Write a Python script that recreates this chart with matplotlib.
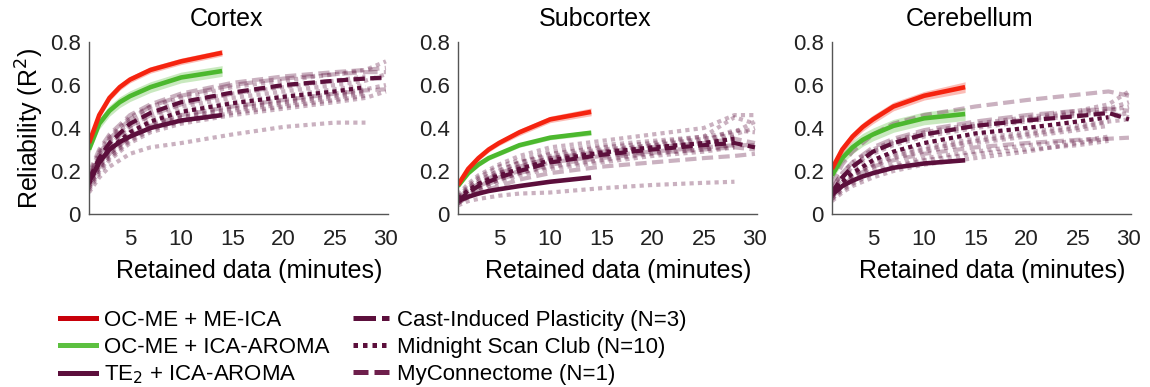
import numpy as np
import matplotlib.pyplot as plt
from matplotlib.lines import Line2D

plt.rcParams["font.family"] = ["Liberation Sans", "DejaVu Sans"]

nan = np.nan
regions = ["Cortex", "Subcortex", "Cerebellum"]

# minutes of retained data
x_short = [1, 2, 3, 4, 5, 7, 10, 14]
x_long = [1, 2, 3, 5, 7, 10, 15, 20, 25, 28, 30]

# multi-echo / single-echo pipelines (mean + half-width of shaded band)
me_ica = {
    "Cortex": [0.33, 0.46, 0.54, 0.59, 0.625, 0.67, 0.71, 0.75],
    "Subcortex": [0.135, 0.21, 0.26, 0.30, 0.33, 0.38, 0.44, 0.475],
    "Cerebellum": [0.21, 0.30, 0.36, 0.405, 0.44, 0.50, 0.55, 0.59],
}
me_ica_band = {
    "Cortex": [0.01, 0.015, 0.015, 0.015, 0.015, 0.015, 0.015, 0.015],
    "Subcortex": [0.01, 0.012, 0.012, 0.012, 0.012, 0.015, 0.015, 0.018],
    "Cerebellum": [0.015, 0.02, 0.02, 0.02, 0.02, 0.02, 0.02, 0.025],
}
aroma = {
    "Cortex": [0.30, 0.42, 0.48, 0.52, 0.548, 0.59, 0.635, 0.665],
    "Subcortex": [0.13, 0.19, 0.23, 0.26, 0.28, 0.32, 0.355, 0.378],
    "Cerebellum": [0.18, 0.26, 0.31, 0.345, 0.37, 0.41, 0.445, 0.465],
}
aroma_band = {
    "Cortex": [0.02, 0.025, 0.025, 0.025, 0.025, 0.025, 0.025, 0.025],
    "Subcortex": [0.01, 0.01, 0.01, 0.01, 0.01, 0.01, 0.01, 0.012],
    "Cerebellum": [0.02, 0.025, 0.03, 0.03, 0.03, 0.03, 0.03, 0.03],
}
te2 = {
    "Cortex": [0.15, 0.24, 0.30, 0.335, 0.36, 0.40, 0.435, 0.46],
    "Subcortex": [0.06, 0.08, 0.095, 0.107, 0.115, 0.13, 0.15, 0.17],
    "Cerebellum": [0.09, 0.13, 0.155, 0.175, 0.19, 0.215, 0.235, 0.25],
}

# Cast-Induced Plasticity (N=3): group mean and subjects
cip_mean = {
    "Cortex": [0.16, 0.26, 0.33, 0.42, 0.47, 0.52, 0.565, 0.60, 0.62, 0.63, 0.635],
    "Subcortex": [0.06, 0.10, 0.13, 0.17, 0.20, 0.24, 0.275, 0.30, 0.32, 0.33, 0.31],
    "Cerebellum": [0.10, 0.17, 0.22, 0.29, 0.33, 0.37, 0.41, 0.435, 0.455, 0.47, 0.44],
}
cip_subjects = {
    "Cortex": [
        [0.19, 0.30, 0.37, 0.46, 0.51, 0.56, 0.61, 0.64, 0.66, 0.67, 0.68],
        [0.15, 0.25, 0.32, 0.41, 0.46, 0.51, 0.56, 0.595, 0.62, 0.63, 0.63],
        [0.13, 0.22, 0.28, 0.36, 0.41, 0.46, 0.50, 0.53, 0.56, 0.575, 0.58],
    ],
    "Subcortex": [
        [0.07, 0.11, 0.14, 0.19, 0.22, 0.26, 0.29, 0.31, 0.33, 0.35, 0.33],
        [0.06, 0.09, 0.12, 0.16, 0.19, 0.23, 0.26, 0.285, 0.30, 0.31, 0.30],
        [0.05, 0.08, 0.10, 0.13, 0.16, 0.19, 0.22, 0.24, 0.26, 0.27, 0.28],
    ],
    "Cerebellum": [
        [0.14, 0.23, 0.29, 0.37, 0.42, 0.46, 0.50, 0.53, 0.555, 0.57, 0.55],
        [0.10, 0.17, 0.22, 0.29, 0.33, 0.37, 0.41, 0.44, 0.46, 0.47, 0.45],
        [0.08, 0.13, 0.17, 0.22, 0.25, 0.28, 0.31, 0.33, 0.345, 0.35, 0.355],
    ],
}

# MyConnectome (N=1)
myc = {
    "Cortex": [0.17, 0.28, 0.35, 0.44, 0.50, 0.55, 0.60, 0.63, 0.65, 0.66, 0.66],
    "Subcortex": [0.06, 0.10, 0.13, 0.17, 0.20, 0.24, 0.27, 0.29, 0.31, 0.32, 0.32],
    "Cerebellum": [0.12, 0.19, 0.24, 0.31, 0.35, 0.39, 0.43, 0.46, 0.48, 0.49, 0.48],
}

# Midnight Scan Club (N=10): group mean and subjects
msc_mean = {
    "Cortex": [0.14, 0.24, 0.30, 0.38, 0.43, 0.475, 0.515, 0.545, 0.57, 0.59, nan],
    "Subcortex": [0.07, 0.11, 0.14, 0.18, 0.21, 0.25, 0.285, 0.31, 0.33, 0.35, nan],
    "Cerebellum": [0.09, 0.15, 0.19, 0.25, 0.29, 0.33, 0.375, 0.40, 0.43, 0.45, nan],
}
msc_subjects = {
    "Cortex": [
        [0.10, 0.17, 0.22, 0.28, 0.31, 0.33, 0.37, 0.405, 0.425, 0.425, nan],
        [0.12, 0.20, 0.26, 0.34, 0.39, 0.43, 0.47, 0.50, 0.53, 0.55, nan],
        [0.13, 0.22, 0.28, 0.36, 0.41, 0.45, 0.49, 0.52, 0.55, 0.57, nan],
        [0.15, 0.25, 0.31, 0.39, 0.44, 0.48, 0.52, 0.55, 0.58, 0.60, nan],
        [0.17, 0.27, 0.34, 0.43, 0.48, 0.52, 0.56, 0.59, 0.62, 0.64, nan],
        [0.18, 0.29, 0.36, 0.45, 0.50, 0.54, 0.59, 0.62, 0.65, 0.67, 0.71],
        [0.11, 0.19, 0.25, 0.33, 0.38, 0.42, 0.46, 0.49, 0.52, 0.54, 0.57],
        [0.14, 0.23, 0.29, 0.37, 0.42, 0.46, 0.50, 0.53, 0.56, 0.58, 0.60],
        [0.16, 0.26, 0.33, 0.41, 0.46, 0.50, 0.54, 0.57, 0.60, 0.62, 0.65],
        [0.12, 0.21, 0.27, 0.35, 0.40, 0.44, 0.48, 0.51, 0.54, 0.56, nan],
    ],
    "Subcortex": [
        [0.04, 0.06, 0.07, 0.085, 0.095, 0.10, 0.12, 0.135, 0.145, 0.15, nan],
        [0.08, 0.13, 0.17, 0.22, 0.25, 0.29, 0.32, 0.34, 0.36, 0.45, 0.42],
        [0.09, 0.14, 0.18, 0.23, 0.27, 0.31, 0.34, 0.37, 0.40, 0.46, 0.46],
        [0.07, 0.12, 0.15, 0.20, 0.24, 0.28, 0.31, 0.33, 0.36, 0.38, 0.43],
        [0.06, 0.10, 0.13, 0.17, 0.21, 0.25, 0.28, 0.30, 0.33, 0.35, nan],
        [0.05, 0.09, 0.12, 0.16, 0.19, 0.22, 0.25, 0.28, 0.30, 0.32, nan],
        [0.07, 0.11, 0.14, 0.19, 0.22, 0.26, 0.29, 0.31, 0.33, 0.36, nan],
        [0.08, 0.12, 0.16, 0.20, 0.24, 0.27, 0.30, 0.32, 0.35, 0.37, 0.40],
        [0.05, 0.08, 0.11, 0.15, 0.18, 0.21, 0.24, 0.27, 0.29, 0.31, nan],
        [0.06, 0.10, 0.14, 0.18, 0.22, 0.26, 0.29, 0.32, 0.34, 0.39, 0.38],
    ],
    "Cerebellum": [
        [0.06, 0.10, 0.13, 0.17, 0.20, 0.23, 0.26, 0.29, 0.33, 0.35, nan],
        [0.07, 0.12, 0.15, 0.20, 0.23, 0.26, 0.29, 0.32, 0.34, 0.36, nan],
        [0.08, 0.13, 0.17, 0.22, 0.26, 0.29, 0.33, 0.36, 0.39, 0.41, nan],
        [0.09, 0.15, 0.19, 0.25, 0.29, 0.33, 0.37, 0.40, 0.43, 0.45, 0.47],
        [0.10, 0.17, 0.21, 0.28, 0.32, 0.36, 0.40, 0.43, 0.46, 0.48, 0.50],
        [0.12, 0.19, 0.24, 0.30, 0.34, 0.38, 0.42, 0.45, 0.48, 0.51, 0.57],
        [0.07, 0.11, 0.14, 0.19, 0.22, 0.25, 0.28, 0.30, 0.32, 0.34, nan],
        [0.09, 0.14, 0.18, 0.24, 0.28, 0.31, 0.35, 0.38, 0.41, 0.43, nan],
        [0.11, 0.17, 0.22, 0.29, 0.33, 0.37, 0.41, 0.44, 0.47, 0.49, 0.52],
        [0.08, 0.14, 0.18, 0.23, 0.27, 0.30, 0.34, 0.37, 0.40, 0.43, 0.44],
    ],
}

x_ticks = [5, 10, 15, 20, 25, 30]
y_ticks = [0, 0.2, 0.4, 0.6, 0.8]
y_ticklabels = ["0", "0.2", "0.4", "0.6", "0.8"]

RED = "#f5230f"
GREEN = "#4cb82e"
MAROON = "#5c0f3c"
LIGHT_ALPHA = 0.32
DASH = (2.7, 1.3)
DOT = (1.0, 1.0)
LW = 3.0

fig = plt.figure(figsize=(11.5, 3.87), dpi=100)
W, H = 1150, 387
lefts = [89, 458, 832]

for i, region in enumerate(regions):
    ax = fig.add_axes([lefts[i] / W, (H - 214) / H, 299 / W, 172 / H])

    # individual subjects, light
    for ys in msc_subjects[region]:
        ax.plot(x_long, ys, color=MAROON, alpha=LIGHT_ALPHA, lw=LW, dashes=DOT)
    for ys in cip_subjects[region]:
        ax.plot(x_long, ys, color=MAROON, alpha=LIGHT_ALPHA, lw=LW, dashes=DASH)
    ax.plot(x_long, myc[region], color=MAROON, alpha=LIGHT_ALPHA, lw=LW, dashes=(3.5, 1.5))

    # group means, dark
    ax.plot(x_long, msc_mean[region], color=MAROON, lw=LW, dashes=DOT)
    ax.plot(x_long, cip_mean[region], color=MAROON, lw=LW, dashes=DASH)

    # pipelines with bands
    for series, band, col in [(te2, None, MAROON), (aroma, aroma_band, GREEN), (me_ica, me_ica_band, RED)]:
        y = np.array(series[region])
        if band is not None:
            b = np.array(band[region])
            ax.fill_between(x_short, y - b, y + b, color=col, alpha=0.3, lw=0)
        ax.plot(x_short, y, color=col, lw=3.3, solid_capstyle="butt", solid_joinstyle="round")

    ax.set_xlim(1, 30.2)
    ax.set_ylim(0, 0.8)
    ax.set_xticks(x_ticks)
    ax.set_yticks(y_ticks)
    ax.set_yticklabels(y_ticklabels)
    for s in ["top", "right"]:
        ax.spines[s].set_visible(False)
    for s in ["left", "bottom"]:
        ax.spines[s].set_color("#555555")
        ax.spines[s].set_linewidth(1.0)
    ax.tick_params(length=0, labelsize=16, colors="#222222")
    ax.tick_params(axis="x", pad=11)
    ax.tick_params(axis="y", pad=6)

    ax.text(0.46, 1.134, region, transform=ax.transAxes, ha="center", va="center", fontsize=18)
    ax.text(0.535, -0.331, "Retained data (minutes)", transform=ax.transAxes,
            ha="center", va="center", fontsize=18)
    if i == 0:
        ax.set_ylabel("Reliability (R$^2$)", fontsize=18, labelpad=3)

# legend
left_handles = [
    Line2D([], [], color="#c8000a", lw=3.6),
    Line2D([], [], color="#5cc040", lw=3.6),
    Line2D([], [], color=MAROON, lw=3.6),
]
left_labels = ["OC-ME + ME-ICA", "OC-ME + ICA-AROMA", "TE$_2$ + ICA-AROMA"]
right_handles = [
    Line2D([], [], color=MAROON, lw=3.6, dashes=(4.5, 1.2)),
    Line2D([], [], color=MAROON, lw=3.6, dashes=(0.9, 1.0)),
    Line2D([], [], color="#6e1f4c", lw=3.6, dashes=(3.0, 1.2)),
]
right_labels = ["Cast-Induced Plasticity (N=3)", "Midnight Scan Club (N=10)", "MyConnectome (N=1)"]

leg_kw = dict(loc="upper left", frameon=False, fontsize=16, handlelength=1.6,
              handletextpad=0.36, labelspacing=0.26, borderpad=0, borderaxespad=0)
fig.legend(left_handles, left_labels, bbox_to_anchor=(60 / W, 1 - 310 / H), **leg_kw)
fig.legend(right_handles, right_labels, bbox_to_anchor=(353 / W, 1 - 310 / H), **leg_kw)

fig.savefig("out.png", dpi=100)
